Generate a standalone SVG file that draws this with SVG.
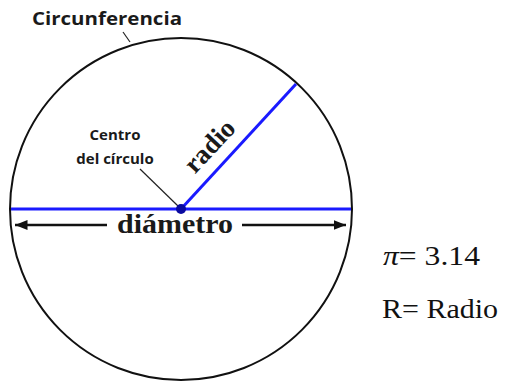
<svg xmlns="http://www.w3.org/2000/svg" width="506" height="385" viewBox="0 0 506 385">
<style>
.sans{font-family:"Open Sans","Liberation Sans",sans-serif;font-weight:bold;fill:#1a1a1a}
.serifb{font-family:"Liberation Serif",serif;font-weight:bold;fill:#1a1a1a}
.serif{font-family:"Liberation Serif",serif;fill:#111}
.lead{stroke:#222;stroke-width:1.2;fill:none}
.blue{stroke:#1a1aff;stroke-width:3;fill:none}
</style>
<defs>
<marker id="ah" viewBox="0 0 10 10" refX="10" refY="5" markerWidth="5" markerHeight="5" orient="auto-start-reverse" markerUnits="strokeWidth">
<path d="M0,1 L10,5 L0,9 Z" fill="#111"/>
</marker>
</defs>
<rect width="506" height="385" fill="#fff"/>
<g id="circle">
<circle cx="181" cy="209" r="171" fill="none" stroke="#111" stroke-width="2"/>
</g>
<g id="connectors">
<line class="blue" x1="11" y1="209" x2="351" y2="209"/>
<line class="blue" x1="181" y1="209" x2="296" y2="84"/>
<line class="lead" x1="123" y1="32" x2="130" y2="42"/>
<line class="lead" x1="140" y1="169" x2="178" y2="206"/>
<line stroke="#111" stroke-width="2.5" x1="15" y1="225" x2="107" y2="225" marker-start="url(#ah)"/>
<line stroke="#111" stroke-width="2.5" x1="242" y1="225" x2="346" y2="225" marker-end="url(#ah)"/>
</g>
<g id="center">
<circle cx="181" cy="209" r="5" fill="#0a0aa0"/>
</g>
<g id="labels">
<text class="sans" x="32" y="25" font-size="17" textLength="150" lengthAdjust="spacingAndGlyphs">Circunferencia</text>
<text class="sans" x="115" y="140" font-size="15" text-anchor="middle">Centro</text>
<text class="sans" x="115" y="164" font-size="15" text-anchor="middle">del círculo</text>
<text class="serifb" font-size="27" text-anchor="middle" transform="translate(216,152) rotate(-47)">radio</text>
<text class="serifb" x="117" y="233" font-size="28" textLength="116" lengthAdjust="spacingAndGlyphs">diámetro</text>
<text class="serif" x="383" y="265" font-size="28" textLength="97" lengthAdjust="spacingAndGlyphs"><tspan font-style="italic">π</tspan>= 3.14</text>
<text class="serif" x="382" y="318" font-size="28" textLength="116" lengthAdjust="spacingAndGlyphs">R= Radio</text>
</g>
</svg>
